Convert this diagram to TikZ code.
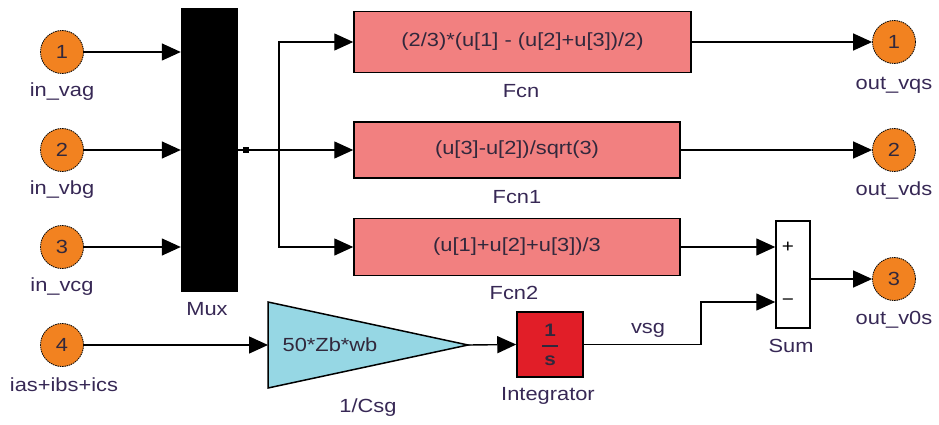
\documentclass[tikz,border=0pt]{standalone}
\usepackage{fontspec}
\setmainfont{Liberation Sans}[FakeStretch=1.15]
\usetikzlibrary{arrows.meta}
\definecolor{portor}{RGB}{242,130,32}
\definecolor{fcnfill}{RGB}{242,128,128}
\definecolor{gainfill}{RGB}{150,215,228}
\definecolor{integfill}{RGB}{225,30,40}
\definecolor{labtext}{RGB}{55,40,85}
\definecolor{boxtext}{RGB}{50,40,60}
\begin{document}
\begin{tikzpicture}[x=1pt,y=-1pt,
  font=\fontsize{19}{22}\selectfont,
  port/.style={circle, draw, line width=0.8pt, dash pattern=on 1.5pt off 0.8pt, fill=portor, minimum size=43pt, inner sep=0pt, text=boxtext},
  lbl/.style={text=labtext, inner sep=0pt},
  fcnbox/.style={draw, line width=1.5pt, fill=fcnfill, inner sep=0pt, text=boxtext},
  wire/.style={line width=1.4pt, -{Triangle[length=19pt,width=17pt]}},
  plainwire/.style={line width=1.4pt}]
\useasboundingbox (0,0) rectangle (939,425);

% inports
\node[port] (in1) at (62,52) {1};
\node[port] (in2) at (62,150) {2};
\node[port] (in3) at (62,247) {3};
\node[port] (in4) at (62,345) {4};
\node[lbl] (l1) at (62,92) {in\_vag};
\node[lbl] (l2) at (62,190) {in\_vbg};
\node[lbl] (l3) at (62,287) {in\_vcg};
\node[lbl] (l4) at (64,385) {ias+ibs+ics};

% mux
\node[fill=black, draw=black, minimum width=56pt, minimum height=283pt, inner sep=0pt] (mux) at (209,149.5) {};
\node[lbl] (lmux) at (207,309) {Mux};
\node[fill=black, minimum size=6pt, inner sep=0pt] (dot) at (246,150) {};
\coordinate (jn) at (279,150);

% fcn blocks
\node[fcnbox, minimum width=337pt, minimum height=61pt] (fcn) at (522.5,42) {(2/3)*(u[1] - (u[2]+u[3])/2)};
\node[fcnbox, minimum width=326pt, minimum height=56pt] (fcn1) at (517,150) {(u[3]-u[2])/sqrt(3)};
\node[fcnbox, minimum width=326pt, minimum height=57pt] (fcn2) at (517,247) {(u[1]+u[2]+u[3])/3};
\node[lbl] (lf) at (521,91) {Fcn};
\node[lbl] (lf1) at (517,197) {Fcn1};
\node[lbl] (lf2) at (514,293) {Fcn2};

% outports
\node[port] (out1) at (894,42) {1};
\node[port] (out2) at (894,150) {2};
\node[port] (out3) at (894,279) {3};
\node[lbl] (lo1) at (894,85) {out\_vqs};
\node[lbl] (lo2) at (894,191) {out\_vds};
\node[lbl] (lo3) at (894,320) {out\_v0s};

% sum
\node[draw, line width=1.5pt, fill=white, minimum width=34pt, minimum height=107pt, inner sep=0pt] (sum) at (793,274.5) {};
\node[inner sep=0pt, font=\fontsize{18}{20}\selectfont] (splus) at (788,247) {+};
\node[inner sep=0pt, font=\fontsize{18}{20}\selectfont] (sminus) at (788,302) {−};
\node[lbl] (lsum) at (791,346) {Sum};

% gain
\coordinate (gin) at (268,345);
\coordinate (gtip) at (468,345);
\filldraw[fill=gainfill, draw=black, line width=1.5pt] (268,302) -- (gtip) -- (268,388) -- cycle;
\node[inner sep=0pt, text=boxtext] (gtext) at (330,345) {50*Zb*wb};
\node[lbl] (lgain) at (368,408) {1/Csg};

% integrator
\node[draw, line width=1.5pt, fill=integfill, minimum width=66pt, minimum height=65pt, inner sep=0pt] (integ) at (550,344.5) {};
\node[inner sep=0pt, text=boxtext, font=\fontsize{18}{20}\selectfont\bfseries] (inum) at (550,330) {1};
\node[inner sep=0pt, text=boxtext, font=\fontsize{18}{20}\selectfont\bfseries] (iden) at (550,361) {s};
\draw[line width=1.4pt, boxtext] (542,346) -- (558,346);
\node[lbl] (linteg) at (548,396) {Integrator};
\node[lbl] (lvsg) at (648,330) {vsg};

% wires
\draw[wire] (in1) -- (in1 -| mux.west);
\draw[wire] (in2) -- (in2 -| mux.west);
\draw[wire] (in3) -- (in3 -| mux.west);
\draw[plainwire] (mux.east |- dot) -- (jn);
\draw[wire] (jn) -- (fcn1.west);
\draw[wire] (jn) |- (fcn.west);
\draw[wire] (jn) |- (fcn2.west);
\draw[wire] (fcn.east) -- (out1.west);
\draw[wire] (fcn1.east) -- (out2.west);
\draw[wire] (fcn2.east) -- (fcn2.east -| sum.west);
\draw[wire] (in4) -- (gin);
\draw[wire] (gtip) -- (integ.west);
\coordinate (bend) at (701,302);
\draw[wire] (integ.east) -| (bend) -- (bend -| sum.west);
\draw[wire] (sum.east |- out3) -- (out3.west);
\end{tikzpicture}
\end{document}
